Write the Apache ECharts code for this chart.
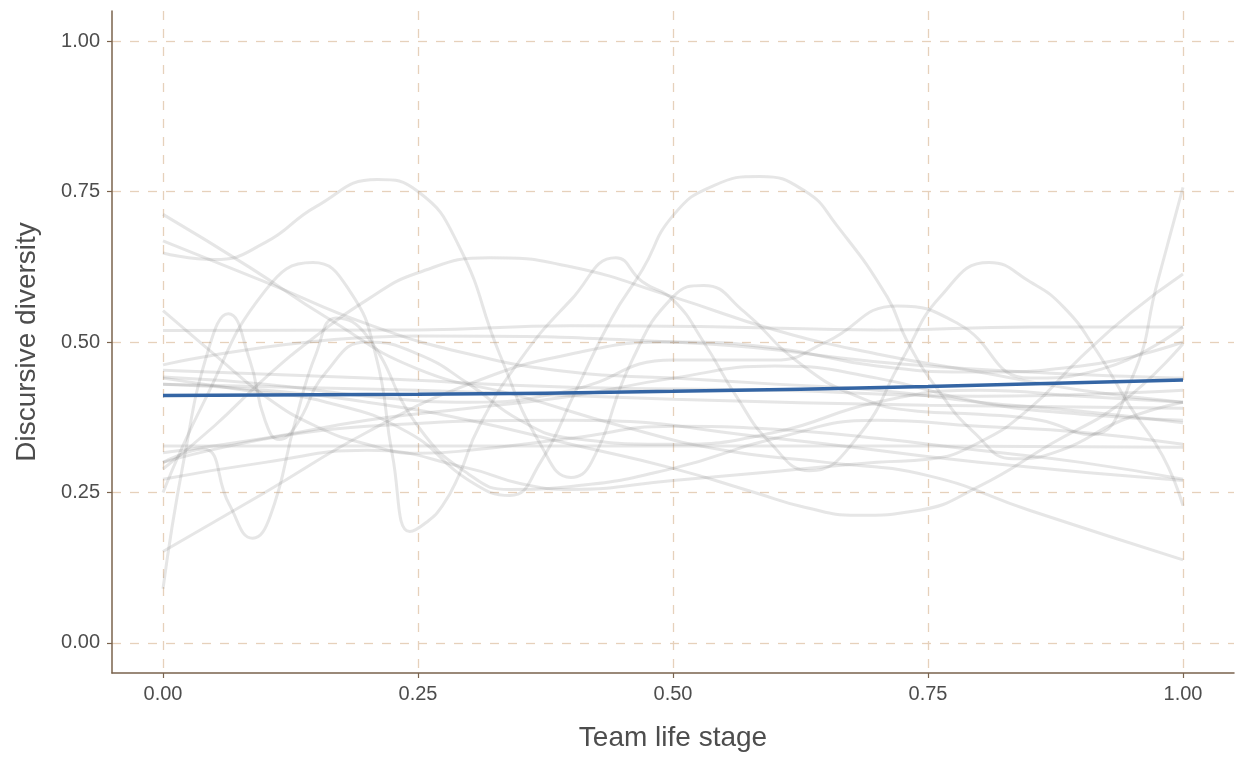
<!DOCTYPE html>
<html>
<head>
<meta charset="utf-8">
<script src="https://cdn.jsdelivr.net/npm/echarts@6/dist/echarts.min.js"></script>
<style>html,body{margin:0;padding:0;background:#fff;overflow:hidden}#chart{width:1238px;height:757px}</style>
</head>
<body>
<div id="chart"></div>
<script>
// Axis ticks
const xTicks = [0, 0.25, 0.5, 0.75, 1];
const yTicks = [0, 0.25, 0.5, 0.75, 1];

// Individual team trajectories: [team life stage, discursive diversity]
const team01 = [[0,.648],[.05,.637],[.1,.665],[.15,.725],[.21,.77],[.25,.75],[.29,.66],[.33,.48],[.37,.33],[.40,.275],[.42,.30],[.46,.47],[.5,.575],[.53,.594],[.57,.55],[.62,.47],[.68,.41],[.74,.385],[.8,.38],[.86,.37],[.91,.346],[.95,.44],[.975,.6],[1,.757]];
const team02 = [[0,.44],[.08,.42],[.16,.40],[.24,.35],[.3,.27],[.34,.245],[.37,.30],[.405,.42],[.44,.54],[.47,.62],[.5,.71],[.54,.76],[.585,.775],[.63,.75],[.66,.695],[.71,.575],[.73,.5],[.76,.42],[.795,.35],[.834,.306],[.88,.32],[.94,.37],[1,.40]];
const team03 = [[0,.25],[.04,.40],[.1,.585],[.147,.632],[.183,.585],[.209,.475],[.225,.311],[.242,.185],[.258,.2],[.274,.228],[.29,.278],[.31,.36],[.35,.47],[.40,.57],[.444,.64],[.47,.6],[.5,.57],[.53,.50],[.562,.41],[.595,.333],[.634,.286],[.68,.34],[.726,.475],[.762,.575],[.81,.632],[.85,.60],[.883,.558],[.915,.486],[.948,.393],[.98,.311],[1,.228]];
const team04 = [[0,.712],[.085,.624],[.16,.541],[.25,.455],[.35,.41],[.45,.36],[.55,.32],[.65,.30],[.75,.278],[.85,.22],[1,.138]];
const team05 = [[0,.668],[.1,.60],[.2,.53],[.3,.48],[.4,.45],[.5,.44],[.6,.43],[.7,.42],[.8,.40],[.9,.385],[1,.366]];
const team06 = [[0,.519],[.25,.52],[.4,.527],[.55,.525],[.7,.52],[.85,.525],[1,.525]];
const team07 = [[0,.552],[.05,.48],[.1,.41],[.15,.36],[.2,.33],[.25,.315],[.3,.32],[.4,.34],[.5,.36],[.6,.355],[.7,.34],[.8,.32],[.9,.30],[1,.272]];
const team08 = [[0,.09],[.02,.30],[.045,.49],[.064,.547],[.085,.47],[.1,.37],[.114,.338],[.13,.36],[.16,.45],[.2,.5],[.25,.48],[.3,.43],[.35,.37],[.4,.34],[.5,.33],[.6,.35],[.7,.40],[.8,.42],[.9,.41],[1,.40]];
const team09 = [[0,.30],[.039,.322],[.065,.23],[.088,.174],[.105,.21],[.13,.37],[.15,.48],[.17,.54],[.2,.51],[.25,.36],[.3,.28],[.34,.255],[.4,.26],[.5,.29],[.6,.34],[.7,.37],[.8,.36],[.9,.35],[1,.33]];
const team10 = [[0,.152],[.1,.25],[.2,.35],[.3,.43],[.4,.48],[.5,.50],[.6,.49],[.7,.46],[.8,.45],[.9,.46],[1,.50]];
const team11 = [[0,.289],[.05,.36],[.1,.44],[.15,.51],[.2,.57],[.25,.615],[.32,.64],[.4,.625],[.5,.575],[.6,.52],[.7,.48],[.8,.45],[.9,.42],[1,.40]];
const team12 = [[0,.327],[.25,.327],[.5,.327],[.75,.327],[1,.325]];
const team13 = [[0,.316],[.1,.34],[.2,.37],[.3,.39],[.4,.41],[.5,.44],[.6,.46],[.7,.44],[.8,.40],[.9,.38],[1,.37]];
const team14 = [[0,.43],[.1,.42],[.2,.40],[.3,.37],[.4,.33],[.5,.29],[.58,.25],[.63,.225],[.68,.212],[.74,.22],[.80,.26],[.87,.33],[.94,.40],[1,.497]];
const team15 = [[0,.272],[.1,.30],[.2,.32],[.3,.29],[.35,.265],[.4,.255],[.5,.27],[.6,.285],[.7,.30],[.75,.305],[.8,.333],[.85,.39],[.9,.475],[.95,.55],[1,.613]];
const team16 = [[0,.442],[.1,.43],[.2,.41],[.3,.40],[.4,.42],[.5,.47],[.6,.47],[.65,.50],[.72,.56],[.78,.53],[.85,.44],[.92,.455],[1,.525]];
const team17 = [[0,.453],[.2,.44],[.4,.425],[.6,.42],[.8,.41],[1,.42]];
const team18 = [[0,.43],[.25,.42],[.5,.405],[.75,.395],[1,.39]];
const team19 = [[0,.30],[.2,.36],[.4,.37],[.6,.34],[.8,.30],[1,.27]];
const team20 = [[0,.462],[.25,.51],[.5,.50],[.75,.46],[1,.44]];

// Overall trend
const overall = [[0,.411],[.25,.413],[.5,.418],[.75,.426],[1,.437]];

const teams = [team01,team02,team03,team04,team05,team06,team07,team08,team09,team10,
               team11,team12,team13,team14,team15,team16,team17,team18,team19,team20];

const axisCol = '#7a634d';
const gridCol = '#e6d1bb';
const textCol = '#4d4d4d';
const font = 'Liberation Sans, Arial, sans-serif';

const series = teams.map(d => ({
  type: 'line', data: d, smooth: 0.5, symbol: 'none', silent: true,
  lineStyle: { color: '#808080', width: 3, opacity: 0.2 }
}));
series.push({
  type: 'line', data: overall, smooth: true, symbol: 'none', silent: true, z: 5,
  lineStyle: { color: '#3465a4', width: 3.5 }
});

const chart = echarts.init(document.getElementById('chart'), null, { renderer: 'canvas', width: 1238, height: 757 });
chart.setOption({
  animation: false,
  backgroundColor: '#fff',
  grid: { left: 112, right: 4, top: 11, bottom: 78, containLabel: false },
  xAxis: {
    type: 'value', min: -0.05, max: 1.05,
    name: 'Team life stage', nameLocation: 'middle', nameGap: 51,
    nameTextStyle: { fontSize: 28, color: textCol, fontFamily: font },
    axisLine: { show: true, onZero: false, lineStyle: { color: axisCol, width: 1.5 } },
    axisTick: { show: true, length: 5, customValues: xTicks, lineStyle: { color: axisCol, width: 1.2 } },
    axisLabel: { customValues: xTicks, formatter: v => v.toFixed(2), fontSize: 20, color: textCol, fontFamily: font, margin: 11 },
    splitLine: { show: true, lineStyle: { color: gridCol, width: 1.3, type: [9, 9] } }
  },
  yAxis: {
    type: 'value', min: -0.05, max: 1.05,
    name: 'Discursive diversity', nameLocation: 'middle', nameGap: 71, nameRotate: 90,
    nameTextStyle: { fontSize: 28, color: textCol, fontFamily: font },
    axisLine: { show: true, onZero: false, lineStyle: { color: axisCol, width: 1.5 } },
    axisTick: { show: true, length: 5, customValues: yTicks, lineStyle: { color: axisCol, width: 1.2 } },
    axisLabel: { customValues: yTicks, formatter: v => v.toFixed(2), fontSize: 20, color: textCol, fontFamily: font, margin: 12 },
    splitLine: { show: true, lineStyle: { color: gridCol, width: 1.3, type: [9, 9] } }
  },
  series: series
});
</script>
</body>
</html>
